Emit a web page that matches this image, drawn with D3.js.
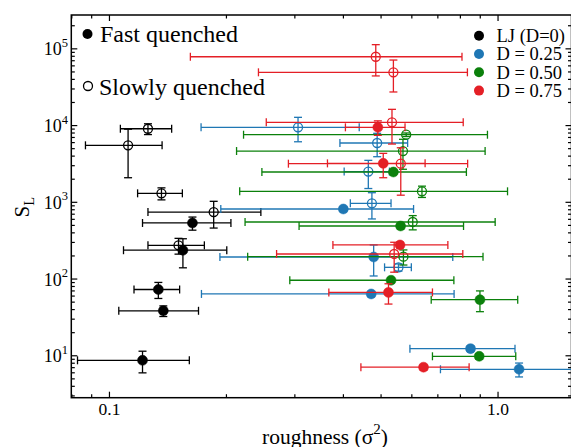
<!DOCTYPE html>
<html>
<head>
<meta charset="utf-8">
<script src="https://cdn.jsdelivr.net/npm/d3@7"></script>
<style>
  body { margin: 0; background: #fff; }
  text { font-family: "Liberation Serif", "Times New Roman", "DejaVu Serif", serif; fill: #000; }
</style>
</head>
<body>
<svg id="chart" width="571" height="447"></svg>
<script>
// Each point: roughness x ± dx, lamellar size S_L y ± dy
const fastLJ = [
  { x: 0.122, dx: 0.039, y: 8.6, dy: 2.7 },
  { x: 0.138, dx: 0.032, y: 38, dy: 6 },
  { x: 0.134, dx: 0.018, y: 72, dy: 17 },
  { x: 0.155, dx: 0.046, y: 234, dy: 96 },
  { x: 0.164, dx: 0.042, y: 530, dy: 103 }
];
const slowLJ = [
  { x: 0.186, dx: 0.060, y: 735, dy: 280 },
  { x: 0.151, dx: 0.025, y: 271, dy: 63 },
  { x: 0.1365, dx: 0.018, y: 1290, dy: 230 },
  { x: 0.112, dx: 0.025, y: 5450, dy: 3390 },
  { x: 0.126, dx: 0.019, y: 8960, dy: 1440 }
];
const fastD25 = [
  { x: 0.401, dx: 0.207, y: 806, dy: 60 },
  { x: 0.480, dx: 0.287, y: 191, dy: 83 },
  { x: 0.473, dx: 0.300, y: 63, dy: 5 },
  { x: 0.852, dx: 0.257, y: 12.2, dy: 1 },
  { x: 1.136, dx: 0.423, y: 6.57, dy: 1.35 }
];
const slowD25 = [
  { x: 0.3066, dx: 0.134, y: 9340, dy: 3280 },
  { x: 0.490, dx: 0.097, y: 5840, dy: 1970 },
  { x: 0.465, dx: 0.062, y: 2480, dy: 990 },
  { x: 0.475, dx: 0.057, y: 956, dy: 358 },
  { x: 0.556, dx: 0.044, y: 140, dy: 15 }
];
const fastD50 = [
  { x: 0.5395, dx: 0.292, y: 2445, dy: 150 },
  { x: 0.563, dx: 0.2545, y: 484, dy: 40 },
  { x: 0.532, dx: 0.240, y: 95, dy: 7 },
  { x: 0.901, dx: 0.226, y: 53, dy: 16 },
  { x: 0.897, dx: 0.217, y: 9.7, dy: 0.8 }
];
const slowD50 = [
  { x: 0.582, dx: 0.360, y: 7490, dy: 400 },
  { x: 0.571, dx: 0.358, y: 4590, dy: 1935 },
  { x: 0.639, dx: 0.422, y: 1370, dy: 230 },
  { x: 0.605, dx: 0.381, y: 546, dy: 115 },
  { x: 0.5725, dx: 0.345, y: 193, dy: 43 }
];
const fastD75 = [
  { x: 0.492, dx: 0.086, y: 9350, dy: 2000 },
  { x: 0.508, dx: 0.143, y: 3170, dy: 1110 },
  { x: 0.561, dx: 0.184, y: 274, dy: 23 },
  { x: 0.524, dx: 0.156, y: 66, dy: 19.5 },
  { x: 0.645, dx: 0.200, y: 7.0, dy: 0.6 }
];
const slowD75 = [
  { x: 0.486, dx: 0.324, y: 77700, dy: 34000 },
  { x: 0.5395, dx: 0.297, y: 48700, dy: 21700 },
  { x: 0.535, dx: 0.281, y: 10850, dy: 5190 },
  { x: 0.5636, dx: 0.274, y: 3140, dy: 1920 },
  { x: 0.542, dx: 0.272, y: 209, dy: 88 }
];

const seriesLabels = ["LJ (D=0)", "D = 0.25", "D = 0.50", "D = 0.75"];
const seriesColors = ["#000000", "#1f77b4", "#0b800b", "#e41f26"];
const quenchLabels = ["Fast quenched", "Slowly quenched"];
const xMajorTicks = [0.1, 1.0];
const yMajorTicks = [1e1, 1e2, 1e3, 1e4, 1e5];

const series = [
  { data: slowLJ, color: seriesColors[0], open: true },
  { data: fastLJ, color: seriesColors[0], open: false },
  { data: slowD25, color: seriesColors[1], open: true },
  { data: fastD25, color: seriesColors[1], open: false },
  { data: slowD50, color: seriesColors[2], open: true },
  { data: fastD50, color: seriesColors[2], open: false },
  { data: slowD75, color: seriesColors[3], open: true },
  { data: fastD75, color: seriesColors[3], open: false }
];

const svg = d3.select("#chart");
const L = 71.3, R = 571.5, T = 15, B = 397.7;

const x = d3.scaleLog().domain([0.08, 1.55]).range([L, R]);
const y = d3.scaleLog().domain([2.8, 2.72e5]).range([B, T]);

// minor ticks
const xMinor = [];
for (const dec of [0.01, 0.1, 1]) for (let k = 2; k <= 9; k++) {
  const v = k * dec;
  if (v >= 0.08 && v <= 1.55) xMinor.push(v);
}
const yMinor = [];
for (const dec of [1, 10, 100, 1000, 10000, 100000]) for (let k = 2; k <= 9; k++) {
  const v = k * dec;
  if (v >= 2.8 && v <= 2.72e5) yMinor.push(v);
}

function styleAxis(g) {
  g.select(".domain").remove();
  g.selectAll(".tick line").attr("stroke", "#000").attr("stroke-width", 1.2);
}

// bottom
svg.append("g").attr("transform", `translate(0,${B})`)
  .call(d3.axisBottom(x).tickValues(xMinor).tickSize(-3.5).tickFormat(""))
  .call(styleAxis);
svg.append("g").attr("transform", `translate(0,${B})`)
  .call(d3.axisBottom(x).tickValues(xMajorTicks).tickSize(-6).tickPadding(6)
    .tickFormat(d3.format(".1f")))
  .call(styleAxis)
  .call(g => g.selectAll(".tick text").attr("font-size", 17.5).attr("y", 17.5).attr("dy", 0));
// top
svg.append("g").attr("transform", `translate(0,${T})`)
  .call(d3.axisTop(x).tickValues(xMinor).tickSize(-3.5).tickFormat(""))
  .call(styleAxis);
svg.append("g").attr("transform", `translate(0,${T})`)
  .call(d3.axisTop(x).tickValues(xMajorTicks).tickSize(-6).tickFormat(""))
  .call(styleAxis);
// left
svg.append("g").attr("transform", `translate(${L},0)`)
  .call(d3.axisLeft(y).tickValues(yMinor).tickSize(-3.5).tickFormat(""))
  .call(styleAxis);
svg.append("g").attr("transform", `translate(${L},0)`)
  .call(d3.axisLeft(y).tickValues(yMajorTicks).tickSize(-6).tickPadding(3.3).tickFormat(""))
  .call(styleAxis)
  .call(g => {
    const t = g.selectAll(".tick text").attr("font-size", 18).attr("dy", 0).attr("y", 6.5);
    t.append("tspan").text("10");
    t.append("tspan").attr("font-size", 12.5).attr("dy", -8.5)
      .text(d => Math.round(Math.log10(d)));
  });
// right
svg.append("g").attr("transform", `translate(${R},0)`)
  .call(d3.axisRight(y).tickValues(yMinor).tickSize(-3.5).tickFormat(""))
  .call(styleAxis);
svg.append("g").attr("transform", `translate(${R},0)`)
  .call(d3.axisRight(y).tickValues(yMajorTicks).tickSize(-6).tickFormat(""))
  .call(styleAxis);

// frame
svg.append("rect").attr("x", L).attr("y", T).attr("width", R - L).attr("height", B - T)
  .attr("fill", "none").attr("stroke", "#000").attr("stroke-width", 1.5);

// axis titles
const xt = svg.append("text").attr("x", 325).attr("y", 443.5)
  .attr("text-anchor", "middle").attr("font-size", 21.5);
xt.append("tspan").text("roughness (σ");
xt.append("tspan").attr("font-size", 15).attr("dy", -10).text("2");
xt.append("tspan").attr("dy", 10).text(")");

const yt = svg.append("text").attr("transform", "translate(28.5,217.5) rotate(-90)")
  .attr("font-size", 21);
yt.append("tspan").text("S");
yt.append("tspan").attr("font-size", 14.5).attr("dy", 5).text("L");

// error bars and markers
const cap = 4;
const plot = svg.append("g");
series.forEach(s => {
  const g = plot.append("g").attr("stroke", s.color).attr("stroke-width", 1.3);
  const pts = g.selectAll("g.pt").data(s.data).join("g").attr("class", "pt");
  // horizontal bar + caps
  pts.append("line")
    .attr("x1", d => x(d.x - d.dx)).attr("x2", d => x(d.x + d.dx))
    .attr("y1", d => y(d.y)).attr("y2", d => y(d.y));
  pts.append("line")
    .attr("x1", d => x(d.x - d.dx)).attr("x2", d => x(d.x - d.dx))
    .attr("y1", d => y(d.y) - cap).attr("y2", d => y(d.y) + cap);
  pts.append("line")
    .attr("x1", d => x(d.x + d.dx)).attr("x2", d => x(d.x + d.dx))
    .attr("y1", d => y(d.y) - cap).attr("y2", d => y(d.y) + cap);
  // vertical bar + caps
  pts.append("line")
    .attr("x1", d => x(d.x)).attr("x2", d => x(d.x))
    .attr("y1", d => y(d.y - d.dy)).attr("y2", d => y(d.y + d.dy));
  pts.append("line")
    .attr("x1", d => x(d.x) - cap).attr("x2", d => x(d.x) + cap)
    .attr("y1", d => y(d.y - d.dy)).attr("y2", d => y(d.y - d.dy));
  pts.append("line")
    .attr("x1", d => x(d.x) - cap).attr("x2", d => x(d.x) + cap)
    .attr("y1", d => y(d.y + d.dy)).attr("y2", d => y(d.y + d.dy));
  // marker
  pts.append("circle")
    .attr("cx", d => x(d.x)).attr("cy", d => y(d.y))
    .attr("r", s.open ? 4.5 : 5)
    .attr("fill", s.open ? "none" : s.color)
    .attr("stroke-width", s.open ? 1.3 : 0.5);
});

// quench-type legend
const ql = svg.append("g");
ql.append("circle").attr("cx", 87.5).attr("cy", 34).attr("r", 5).attr("fill", "#000");
ql.append("text").attr("x", 100).attr("y", 41.7).attr("font-size", 24).text(quenchLabels[0]);
ql.append("circle").attr("cx", 88).attr("cy", 86).attr("r", 4.5)
  .attr("fill", "none").attr("stroke", "#000").attr("stroke-width", 1.3);
ql.append("text").attr("x", 99).attr("y", 95).attr("font-size", 24).text(quenchLabels[1]);

// series legend
const sl = svg.append("g");
seriesLabels.forEach((lab, i) => {
  const by = 42 + i * 18.3;
  sl.append("circle").attr("cx", 479).attr("cy", by - 6.3).attr("r", 5).attr("fill", seriesColors[i]);
  sl.append("text").attr("x", 496.5).attr("y", by).attr("font-size", 18.5).text(lab);
});
</script>
</body>
</html>
